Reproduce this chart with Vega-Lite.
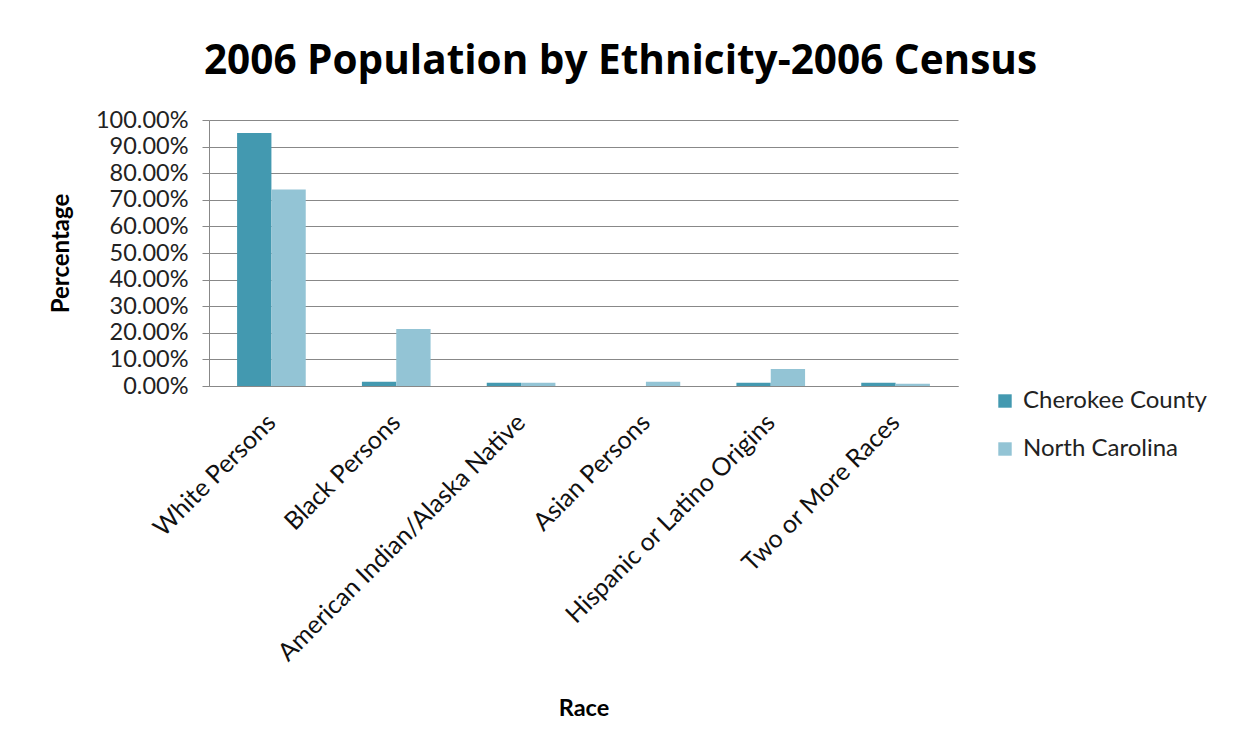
{
  "$schema": "https://vega.github.io/schema/vega-lite/v6.json",
  "autosize": "none",
  "width": 749,
  "height": 266,
  "padding": {"left": 209, "top": 120, "right": 275, "bottom": 365},
  "background": "white",
  "title": {"text": "2006 Population by Ethnicity-2006 Census", "font": "Open Sans", "fontSize": 40.5, "fontWeight": "bold", "color": "#000", "anchor": "middle", "dx": 37, "offset": 26},
  "data": {"values": [
    {"race": "White Persons", "region": "Cherokee County", "pct": 0.951},
    {"race": "White Persons", "region": "North Carolina", "pct": 0.739},
    {"race": "Black Persons", "region": "Cherokee County", "pct": 0.016},
    {"race": "Black Persons", "region": "North Carolina", "pct": 0.214},
    {"race": "American Indian/Alaska Native", "region": "Cherokee County", "pct": 0.012},
    {"race": "American Indian/Alaska Native", "region": "North Carolina", "pct": 0.012},
    {"race": "Asian Persons", "region": "Cherokee County", "pct": 0.0},
    {"race": "Asian Persons", "region": "North Carolina", "pct": 0.016},
    {"race": "Hispanic or Latino Origins", "region": "Cherokee County", "pct": 0.012},
    {"race": "Hispanic or Latino Origins", "region": "North Carolina", "pct": 0.064},
    {"race": "Two or More Races", "region": "Cherokee County", "pct": 0.012},
    {"race": "Two or More Races", "region": "North Carolina", "pct": 0.008}
  ]},
  "mark": {"type": "bar"},
  "encoding": {
    "x": {"field": "race", "type": "nominal", "sort": null, "title": "Race",
      "scale": {"paddingInner": 0.45, "paddingOuter": 0.225},
      "axis": {"labelAngle": -45, "labelAlign": "right", "labelBaseline": "middle", "labelFont": "Lato", "labelFontSize": 25, "labelLimit": 0, "labelOverlap": false, "labelColor": "#111", "labelPadding": 32, "domainColor": "#888", "tickColor": "#888", "ticks": false, "titleFont": "Lato", "titleFontSize": 23.5, "titleFontWeight": "bold", "titleColor": "#000", "titlePadding": 110}},
    "xOffset": {"field": "region", "type": "nominal"},
    "y": {"field": "pct", "type": "quantitative", "title": "Percentage",
      "scale": {"domain": [0, 1], "nice": false},
      "axis": {"format": ".2%", "values": [0, 0.1, 0.2, 0.3, 0.4, 0.5, 0.6, 0.7, 0.8, 0.9, 1.0], "labelOverlap": false, "labelFont": "Lato", "labelFontSize": 23.5, "labelColor": "#222", "labelPadding": 14, "tickSize": 7, "tickColor": "#888", "domainColor": "#888", "gridColor": "#888", "titleFont": "Lato", "titleFontSize": 24, "titleFontWeight": "bold", "titleColor": "#000", "titlePadding": 22}},
    "color": {"field": "region", "type": "nominal", "title": null,
      "scale": {"domain": ["Cherokee County", "North Carolina"], "range": ["#4399B0", "#93C4D5"]},
      "legend": {"orient": "none", "legendX": 784, "legendY": 269, "symbolType": "square", "symbolSize": 180, "symbolStrokeWidth": 0, "labelFont": "Lato", "labelFontSize": 24, "labelLimit": 0, "labelColor": "#222", "rowPadding": 24, "labelOffset": 6}}
  },
  "config": {"view": {"stroke": null}}
}
